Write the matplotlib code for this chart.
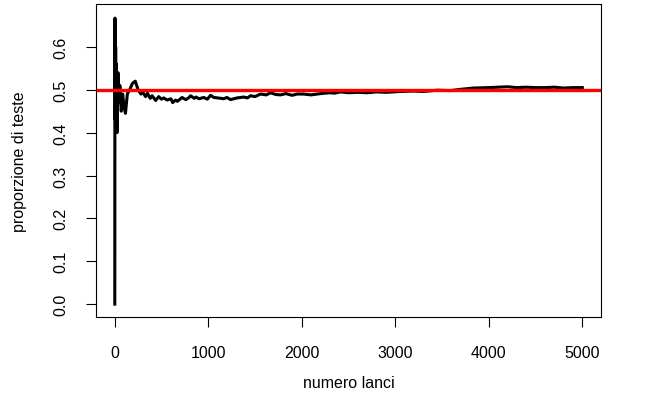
import matplotlib
matplotlib.use("Agg")
import matplotlib.pyplot as plt

plt.rcParams['font.family'] = ['Liberation Sans', 'DejaVu Sans']

# running proportion of heads, vertices
lanci = [1, 2, 3, 4, 5, 7, 10, 14, 18, 25, 35, 45, 55, 70, 85, 100, 115, 135,
         160, 190, 220, 250, 280, 300, 330, 350, 380, 400, 438, 470, 500,
         525, 560, 600, 620, 650, 670, 720, 760, 790, 812, 850, 870, 900,
         953, 990, 1025, 1060, 1100, 1166, 1200, 1239, 1310, 1380, 1420,
         1453, 1500, 1560, 1620, 1667, 1720, 1773, 1830, 1898, 1950, 2020,
         2100, 2200, 2300, 2350, 2414, 2500, 2593, 2700, 2800, 2900, 3055,
         3200, 3300, 3450, 3590, 3700, 3835, 4000, 4100, 4200, 4300, 4400,
         4500, 4600, 4700, 4800, 4900, 5000]
prop_teste = [0.0, 0.5, 0.667, 0.5, 0.6, 0.43, 0.6, 0.43, 0.56, 0.40, 0.54,
              0.47, 0.51, 0.45, 0.49, 0.46, 0.445, 0.49, 0.50, 0.515, 0.52,
              0.50, 0.49, 0.494, 0.484, 0.492, 0.48, 0.486, 0.475, 0.484,
              0.478, 0.481, 0.476, 0.479, 0.470, 0.476, 0.473, 0.482, 0.477,
              0.481, 0.486, 0.480, 0.483, 0.479, 0.482, 0.478, 0.487, 0.482,
              0.481, 0.479, 0.482, 0.477, 0.481, 0.483, 0.481, 0.486, 0.484,
              0.490, 0.488, 0.493, 0.489, 0.488, 0.491, 0.487, 0.490, 0.490,
              0.488, 0.491, 0.493, 0.492, 0.495, 0.493, 0.494, 0.493, 0.495,
              0.494, 0.496, 0.497, 0.496, 0.499, 0.498, 0.501, 0.504, 0.505,
              0.506, 0.507, 0.505, 0.506, 0.505, 0.505, 0.506, 0.504, 0.505,
              0.505]

xticks = [0, 1000, 2000, 3000, 4000, 5000]
yticks = [0.0, 0.1, 0.2, 0.3, 0.4, 0.5, 0.6]

fig = plt.figure(figsize=(6.45, 4.06), dpi=100)
ax = fig.add_axes([96/645, 1-318/406, 505/645, 313/406])

ax.plot(lanci, prop_teste, color='black', lw=2.2)
ax.axhline(0.5, color='red', lw=2.4)

ax.set_xlim(-200, 5200)
ax.set_ylim(-0.03, 0.70)
ax.set_xticks(xticks)
ax.set_xticklabels([str(t) for t in xticks])
ax.set_yticks(yticks)
ax.set_yticklabels(['%.1f' % t for t in yticks], rotation=90, va='center')
ax.tick_params(length=7, width=0.8, labelsize=11.5, pad=13)
for sp in ax.spines.values():
    sp.set_linewidth(0.8)

ax.set_xlabel('numero lanci', fontsize=11.5)
ax.set_ylabel('proporzione di teste', fontsize=11.5)
ax.xaxis.set_label_coords(0.5, -(376-318)/313, transform=ax.transAxes)
ax.yaxis.set_label_coords(-(96-27)/505, 0.5, transform=ax.transAxes)

fig.savefig('out.png', dpi=100)
